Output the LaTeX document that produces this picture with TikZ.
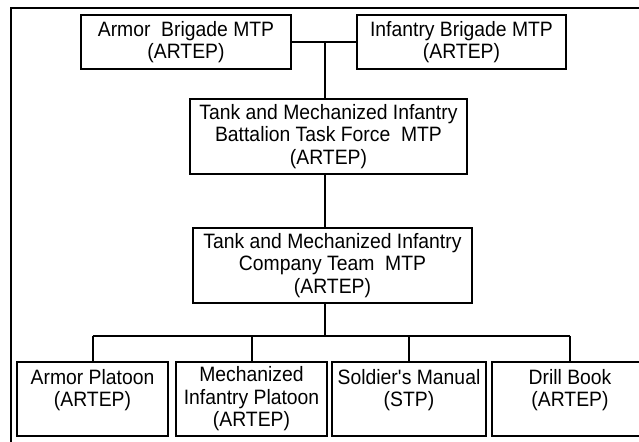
\documentclass[tikz,border=0pt]{standalone}
\usepackage{fontspec}
\setmainfont[FakeStretch=0.93]{Liberation Sans}
\begin{document}
\begin{tikzpicture}[x=0.5pt,y=-0.5pt,
  box/.style={draw,line width=1.3pt,align=center,inner sep=0pt,
    font=\fontsize{10.4}{11.25}\selectfont},
  link/.style={line width=1pt}]
  \useasboundingbox (0,0) rectangle (639,442);
  \clip (0,0) rectangle (639,442);
  \fill[white] (0,0) rectangle (639,442);
  % 外枠 (右と下は画面外まで)
  \draw[line width=1.4pt] (11,8) rectangle (660,460);
  % 旅団
  \node[box,minimum width=105pt,minimum height=27pt] (armbde) at (186,42) {Armor~ Brigade MTP\\(ARTEP)};
  \node[box,minimum width=104.5pt,minimum height=27pt] (infbde) at (461.5,42) {Infantry Brigade MTP\\(ARTEP)};
  % 大隊と中隊
  \node[box,minimum width=138.5pt,minimum height=37.5pt] (btf) at (328.5,136.5) {Tank and Mechanized Infantry\\Battalion Task Force~ MTP\\(ARTEP)};
  \node[box,minimum width=139.5pt,minimum height=37.5pt] (team) at (332.5,265.5) {Tank and Mechanized Infantry\\Company Team~ MTP\\(ARTEP)};
  % 小隊など
  \node[box,minimum width=75.5pt,minimum height=37pt] (armplt) at (92.5,399) {Armor Platoon\\(ARTEP)\\~};
  \node[box,minimum width=75.5pt,minimum height=37pt] (mechplt) at (251.5,399) {Mechanized\\Infantry Platoon\\(ARTEP)};
  \node[box,minimum width=77pt,minimum height=37pt] (sm) at (409,399) {Soldier\textquotesingle s Manual\\(STP)\\~};
  \node[box,minimum width=78pt,minimum height=37pt] (drill) at (570,399) {Drill Book\\(ARTEP)\\~};
  % 線
  \coordinate (spine) at (325,42);
  \coordinate (bus) at (325,336);
  \draw[link] (armbde.east) -- (infbde.west);
  \draw[link] (spine) -- (spine |- btf.north);
  \draw[link] (spine |- btf.south) -- (spine |- team.north);
  \draw[link] (spine |- team.south) -- (bus);
  \draw[link] (bus -| armplt.north) -- (bus -| drill.north);
  \foreach \n in {armplt,mechplt,sm,drill}
    \draw[link] (bus -| \n.north) -- (\n.north);
\end{tikzpicture}
\end{document}
